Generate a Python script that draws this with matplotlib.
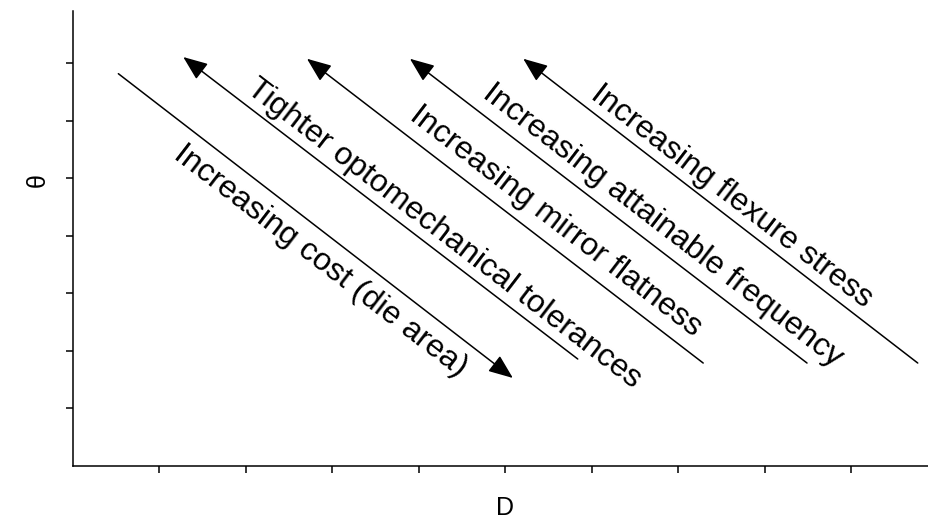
import matplotlib
matplotlib.use("Agg")
import matplotlib.pyplot as plt

plt.rcParams['font.family'] = ['Liberation Sans', 'DejaVu Sans']

# arrow lines: (x_start, y_start, x_end, y_end), head drawn at end
arrow_tails = [(0.53, 6.82), (5.84, 1.86), (7.29, 1.79), (8.49, 1.79), (9.77, 1.79)]
arrow_tips = [(5.09, 1.53), (1.28, 7.11), (2.71, 7.08), (3.90, 7.08), (5.21, 7.08)]
labels = ["Increasing cost (die area)",
          "Tighter optomechanical tolerances",
          "Increasing mirror flatness",
          "Increasing attainable frequency",
          "Increasing flexure stress"]
label_pos = [(2.86, 3.56), (4.29, 4.03), (5.58, 4.25), (6.82, 4.18), (7.62, 4.68)]
x_ticks = [1, 2, 3, 4, 5, 6, 7, 8, 9]
y_ticks = [1, 2, 3, 4, 5, 6, 7]

fig = plt.figure(figsize=(9.29, 5.25), dpi=100)
ax = fig.add_axes([72.5 / 929, 1 - 466 / 525, 1 - 72.5 / 929, (466 - 11) / 525])
ax.set_xlim(0, 9.90)
ax.set_ylim(0, 7.91)

for (x0, y0), (x1, y1) in zip(arrow_tails, arrow_tips):
    ax.annotate('', xy=(x1, y1), xytext=(x0, y0),
                arrowprops=dict(arrowstyle='-|>,head_length=1.5,head_width=0.6',
                                mutation_scale=10, lw=1.1, color='black',
                                shrinkA=0, shrinkB=0))

for (x, y), txt in zip(label_pos, labels):
    ax.text(x, y, txt, rotation=-37.5, rotation_mode='anchor',
            ha='center', va='center', fontsize=23)

ax.set_xticks(x_ticks)
ax.set_yticks(y_ticks)
ax.set_xticklabels([])
ax.set_yticklabels([])
ax.tick_params(length=5, width=1.1)
for side in ['top', 'right']:
    ax.spines[side].set_visible(False)
for side in ['left', 'bottom']:
    ax.spines[side].set_linewidth(1.1)

fig.text(505 / 929, 1 - 508 / 525, "D", ha='center', va='center', fontsize=18)
fig.text(38 / 929, 1 - 180 / 525, "θ", ha='center', va='center', fontsize=18,
         rotation=90)

fig.savefig("out.png", dpi=100)
